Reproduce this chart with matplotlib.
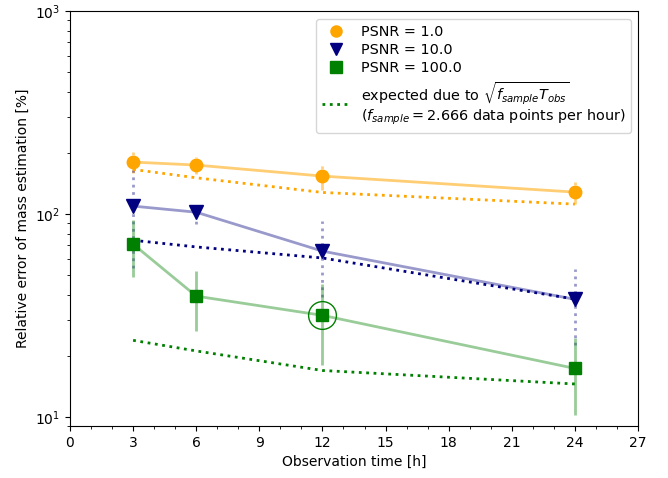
import numpy as np
import matplotlib
matplotlib.use("Agg")
import matplotlib.pyplot as plt
from matplotlib.lines import Line2D

hours = [3, 6, 12, 24]

psnr1_val = [180, 174, 153.5, 128]
psnr1_err = [21, 17, 22, 16]
psnr1_exp = [165.6, 150.6, 127.5, 111.7]

psnr10_val = [109.2, 101.9, 65.5, 37.9]
psnr10_err = [55, 12.4, 26.5, 15.4]
psnr10_exp = [74.1, 68.7, 60.6, 38.0]

psnr100_val = [70.9, 39.3, 31.6, 17.3]
psnr100_err = [22, 12.8, 13.7, 7.1]
psnr100_exp = [23.8, 21.1, 16.9, 14.5]

highlight_hour = 12
highlight_val = 31.6

labels = ["PSNR = 1.0", "PSNR = 10.0", "PSNR = 100.0"]
exp_label = (r"expected due to $\sqrt{f_{sample}T_{obs}}$" + "\n"
             + r"($f_{sample} = 2.666$ data points per hour)")

fig = plt.figure(figsize=(6.68, 4.78), dpi=100)
ax = fig.add_axes([70/668, 1-426/478, (638-70)/668, (426-11)/478])

h = np.array(hours)

# PSNR = 1.0 (orange)
v, e = np.array(psnr1_val), np.array(psnr1_err)
ax.plot(h, v, '-', color='orange', alpha=0.55, lw=2, zorder=2)
ax.vlines(h, v, v + e, colors='orange', linestyles=':', lw=2, alpha=0.5, zorder=2)
ax.vlines(h, v - e, v, colors='orange', linestyles='-', lw=2, alpha=0.5, zorder=2)
ax.plot(h, psnr1_exp, ':', color='orange', lw=2, zorder=3)
ax.plot(h, v, 'o', color='orange', ms=9, zorder=5)

# PSNR = 10.0 (navy)
v, e = np.array(psnr10_val), np.array(psnr10_err)
ax.plot(h, v, '-', color='navy', alpha=0.4, lw=2, zorder=2)
ax.vlines(h, v - e, v + e, colors='navy', linestyles=':', lw=2, alpha=0.4, zorder=2)
ax.plot(h, psnr10_exp, ':', color='navy', lw=2, zorder=3)
ax.plot(h, v, 'v', color='navy', ms=10, zorder=5)

# PSNR = 100.0 (green)
v, e = np.array(psnr100_val), np.array(psnr100_err)
ax.plot(h, v, '-', color='green', alpha=0.4, lw=2, zorder=2)
ax.vlines(h, v - e, v + e, colors='green', linestyles='-', lw=2, alpha=0.4, zorder=2)
ax.plot(h, psnr100_exp, ':', color='green', lw=2, zorder=3)
ax.plot(h, v, 's', color='green', ms=9, zorder=5)
ax.plot([highlight_hour], [highlight_val], 'o', mfc='none', mec='green',
        ms=20, mew=1, zorder=6)

ax.set_yscale('log')
ax.set_ylim(9, 1000)
ax.set_xlim(0, 27)
ax.set_xticks(np.arange(0, 28, 3))
ax.set_xticks(np.arange(0, 28, 1), minor=True)
ax.tick_params(labelsize=10)
ax.set_xlabel("Observation time [h]", fontsize=10)
ax.set_ylabel("Relative error of mass estimation [%]", fontsize=10)

handles = [
    Line2D([], [], ls='none', marker='o', color='orange', ms=8),
    Line2D([], [], ls='none', marker='v', color='navy', ms=8),
    Line2D([], [], ls='none', marker='s', color='green', ms=8),
    Line2D([], [], ls=':', color='green', lw=2),
]
ax.legend(handles, labels + [exp_label], loc='upper right', fontsize=10.4,
          labelspacing=0.3, handletextpad=0.7,
          bbox_to_anchor=((631-70)/568, (426-19)/415), borderaxespad=0)

fig.savefig("out.png", dpi=100)
